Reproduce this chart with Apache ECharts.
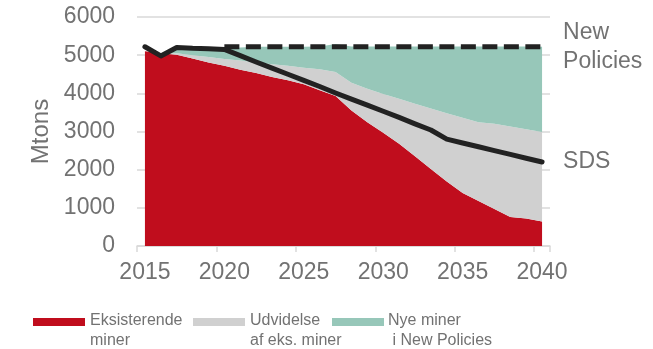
<!DOCTYPE html>
<html>
<head>
<meta charset="utf-8">
<script src="https://cdn.jsdelivr.net/npm/echarts@6/dist/echarts.min.js"></script>
<style>
  html, body { margin: 0; padding: 0; background: #ffffff; }
  #chart { width: 653px; height: 349px; }
</style>
</head>
<body>
<div id="chart"></div>
<script>
// Years on the category axis
const years = ['2015','2016','2017','2018','2019','2020','2021','2022','2023','2024','2025','2026','2027',
               '2028','2029','2030','2031','2032','2033','2034','2035','2036','2037','2038','2039','2040'];

// Stacked supply components (Mtons)
const existingMines = [5100,5050,5010,4910,4810,4720,4620,4530,4430,4340,4240,4080,3930,
                       3550,3240,2970,2680,2350,2020,1690,1390,1180,970,760,720,640];
const expansion     = [0,0,40,90,140,180,240,280,330,380,430,550,630,
                       730,880,1010,1180,1380,1580,1790,1970,2060,2230,2370,2340,2350];
const newMines      = [0,0,100,160,210,260,340,410,460,500,550,600,730,
                       950,1110,1250,1370,1500,1630,1750,1870,1990,2030,2100,2170,2230];

// Scenario lines (Mtons)
const newPolicies = [null,null,null,null,null,5220,5220,5220,5220,5220,5220,5220,5220,
                     5220,5220,5220,5220,5220,5220,5220,5220,5220,5220,5220,5220,5220];
const sds = [5220,4980,5200,5180,5170,5150,4990,4820,4660,4500,4340,4180,4010,
             3850,3690,3530,3370,3200,3040,2800,2700,2600,2500,2400,2300,2200];

// Axis and legend text
const yTicks = { min: 0, max: 6000, interval: 1000 };
const yName = 'Mtons';
const areaNames = ['Eksisterende\nminer', 'Udvidelse\naf eks. miner', 'Nye miner\n i New Policies'];
const lineLabels = ['New\nPolicies', 'SDS'];

const areaColors = ['#C00D1D', '#D0D0D0', '#97C7B9'];
const textColor = '#727272';
const gridColor = '#D9D9D9';
const lineColor = '#222222';
const fontFamily = 'Liberation Sans, Arial, sans-serif';

const chart = echarts.init(document.getElementById('chart'), null, { renderer: 'canvas' });

function areaSeries(name, data, color) {
  return {
    name: name,
    type: 'line',
    stack: 'supply',
    data: data,
    symbol: 'none',
    lineStyle: { width: 0 },
    areaStyle: { color: color, opacity: 1 },
    itemStyle: { color: color },
    emphasis: { disabled: true },
    z: 2
  };
}

// Hand-built legend: colour bar aligned with the first text line
const legendX = [{ bar: 33, text: 90 }, { bar: 193, text: 250 }, { bar: 332, text: 388 }];
const legendGraphics = [];
areaNames.forEach(function (n, i) {
  legendGraphics.push({
    type: 'rect',
    left: legendX[i].bar, top: 318,
    shape: { width: 52, height: 8 },
    style: { fill: areaColors[i] }
  });
  legendGraphics.push({
    type: 'text',
    left: legendX[i].text, top: 311,
    style: { text: n, fill: textColor, font: '16px ' + fontFamily, lineHeight: 20 }
  });
});

chart.setOption({
  animation: false,
  backgroundColor: '#ffffff',
  grid: { left: 137, right: 103, top: 17, bottom: 103, containLabel: false },
  xAxis: {
    type: 'category',
    data: years,
    boundaryGap: true,
    axisLine: { show: true, lineStyle: { color: gridColor, width: 1.5 } },
    axisTick: { show: true, interval: 4, length: 6, lineStyle: { color: gridColor, width: 1.5 } },
    axisLabel: { interval: 4, color: textColor, fontSize: 23, fontFamily: fontFamily, margin: 15 },
    splitLine: { show: false }
  },
  yAxis: {
    type: 'value',
    min: yTicks.min, max: yTicks.max, interval: yTicks.interval,
    name: yName,
    nameLocation: 'middle',
    nameGap: 79,
    nameTextStyle: { color: textColor, fontSize: 24, fontFamily: fontFamily },
    axisLine: { show: false },
    axisTick: { show: false },
    axisLabel: {
      color: textColor, fontSize: 23, fontFamily: fontFamily, margin: 22,
      formatter: function (v) { return String(v); }
    },
    splitLine: { show: true, lineStyle: { color: gridColor, width: 1.5 } }
  },
  series: [
    areaSeries(areaNames[0], existingMines, areaColors[0]),
    areaSeries(areaNames[1], expansion, areaColors[1]),
    areaSeries(areaNames[2], newMines, areaColors[2]),
    {
      name: 'New Policies',
      type: 'line',
      data: newPolicies,
      symbol: 'none',
      lineStyle: { color: lineColor, width: 5, type: [15, 6.5], cap: 'butt' },
      endLabel: {
        show: true, formatter: lineLabels[0], distance: 21,
        color: textColor, fontSize: 23, lineHeight: 29, fontFamily: fontFamily
      },
      emphasis: { disabled: true },
      z: 4
    },
    {
      name: 'SDS',
      type: 'line',
      data: sds,
      symbol: 'none',
      lineStyle: { color: lineColor, width: 5, cap: 'round', join: 'round' },
      endLabel: {
        show: true, formatter: lineLabels[1], distance: 21,
        color: textColor, fontSize: 23, fontFamily: fontFamily
      },
      emphasis: { disabled: true },
      z: 5
    }
  ],
  graphic: legendGraphics
});
</script>
</body>
</html>
